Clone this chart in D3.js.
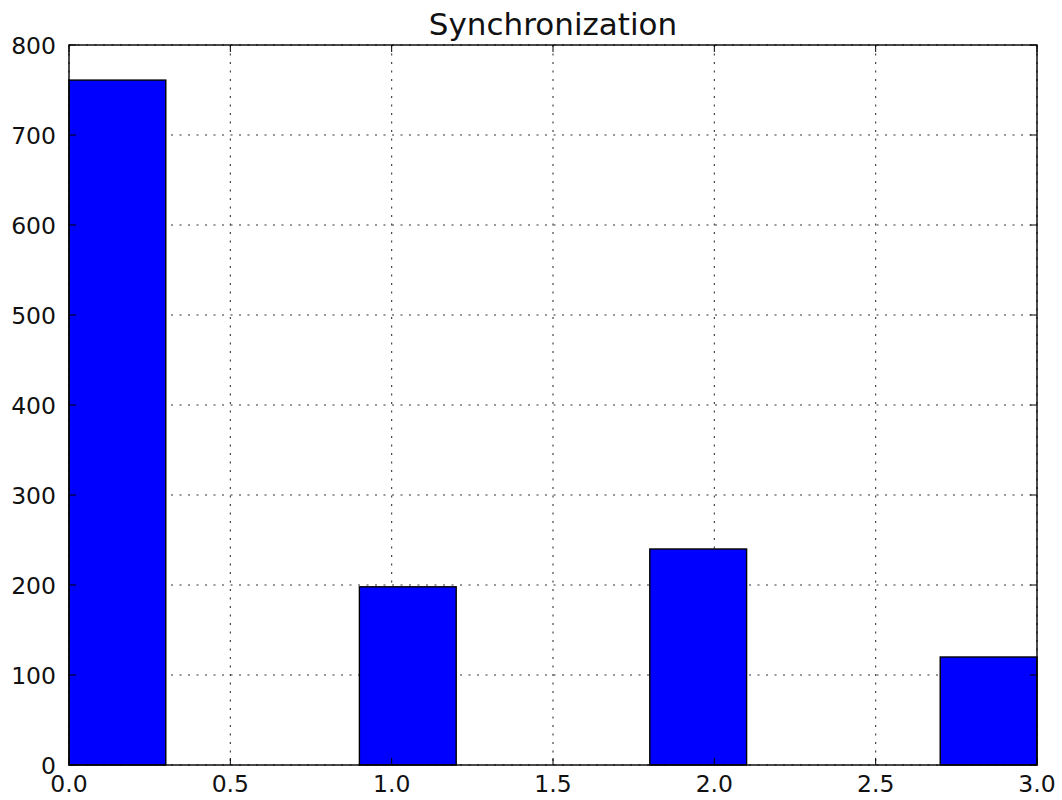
<!DOCTYPE html>
<html><head><meta charset="utf-8">
<script src="https://cdn.jsdelivr.net/npm/d3@7"></script>
<style>body{margin:0;background:#fff}svg{display:block}text{font-family:"DejaVu Sans",sans-serif;fill:#111}</style>
</head><body>
<svg id="c" width="1062" height="800"></svg>
<script>
const binEdges = [0.0,0.3,0.6,0.9,1.2,1.5,1.8,2.1,2.4,2.7,3.0];
const counts = [761,0,0,198,0,0,240,0,0,120];
const xTicks = [0.0,0.5,1.0,1.5,2.0,2.5,3.0];
const yTicks = [0,100,200,300,400,500,600,700,800];
const title = "Synchronization";

const svg = d3.select("#c");
const m = {l:69,r:1037,t:45,b:765};
const x = d3.scaleLinear().domain([0,3]).range([m.l,m.r]);
const y = d3.scaleLinear().domain([0,800]).range([m.b,m.t]);

// grid
const g = svg.append("g");
g.selectAll(".vg").data(xTicks).join("line")
 .attr("x1",d=>x(d)).attr("x2",d=>x(d)).attr("y1",m.t).attr("y2",m.b)
 .attr("stroke","#333").attr("stroke-width",1.1).attr("stroke-dasharray","2,6.5");
g.selectAll(".hg").data(yTicks).join("line")
 .attr("y1",d=>y(d)).attr("y2",d=>y(d)).attr("x1",m.l).attr("x2",m.r)
 .attr("stroke","#333").attr("stroke-width",1.1).attr("stroke-dasharray","2,6.5");

// bars
const bins = counts.map((c,i)=>({x0:binEdges[i],x1:binEdges[i+1],c})).filter(d=>d.c>0);
svg.selectAll(".bar").data(bins).join("rect")
 .attr("x",d=>x(d.x0)).attr("width",d=>x(d.x1)-x(d.x0))
 .attr("y",d=>y(d.c)).attr("height",d=>y(0)-y(d.c))
 .attr("fill","#0000ff").attr("stroke","#000").attr("stroke-width",1.4);

// frame
svg.append("rect").attr("x",m.l).attr("y",m.t).attr("width",m.r-m.l).attr("height",m.b-m.t)
 .attr("fill","none").attr("stroke","#000").attr("stroke-width",1.4);

// ticks (inward, all sides)
const tl = 7;
const tk = svg.append("g").attr("stroke","#000").attr("stroke-width",1);
xTicks.forEach(d=>{
  tk.append("line").attr("x1",x(d)).attr("x2",x(d)).attr("y1",m.b).attr("y2",m.b-tl);
  tk.append("line").attr("x1",x(d)).attr("x2",x(d)).attr("y1",m.t).attr("y2",m.t+tl);
});
yTicks.forEach(d=>{
  tk.append("line").attr("y1",y(d)).attr("y2",y(d)).attr("x1",m.l).attr("x2",m.l+tl);
  tk.append("line").attr("y1",y(d)).attr("y2",y(d)).attr("x1",m.r).attr("x2",m.r-tl);
});

svg.selectAll(".xl").data(xTicks).join("text")
 .attr("x",d=>x(d)).attr("y",m.b+27).attr("text-anchor","middle")
 .attr("font-size",23.5).text(d=>d.toFixed(1));
svg.selectAll(".yl").data(yTicks).join("text")
 .attr("x",m.l-13).attr("y",d=>y(d)+8.5).attr("text-anchor","end")
 .attr("font-size",23.5).text(d=>d);

svg.append("text").attr("x",(m.l+m.r)/2).attr("y",35).attr("text-anchor","middle")
 .attr("font-size",31).text(title);
</script>
</body></html>
